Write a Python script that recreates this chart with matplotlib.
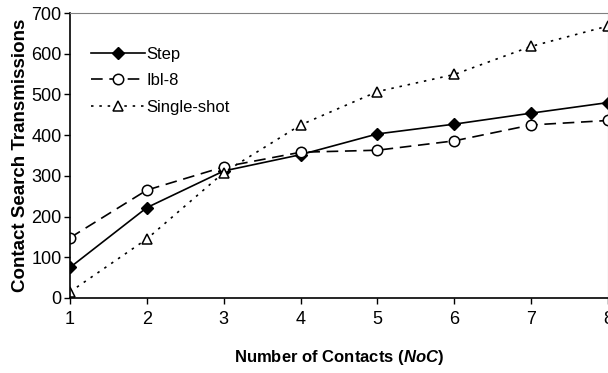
import matplotlib
matplotlib.use("Agg")
import matplotlib.pyplot as plt

noc = [1, 2, 3, 4, 5, 6, 7, 8]
step = [75, 222, 312, 352, 403, 427, 454, 480]
ibl8 = [148, 265, 322, 358, 363, 386, 425, 436]
single = [15, 145, 308, 425, 507, 549, 618, 668]
yticks = [0, 100, 200, 300, 400, 500, 600, 700]

plt.rcParams["font.family"] = ["Liberation Sans", "DejaVu Sans"]
plt.rcParams["mathtext.fontset"] = "custom"
plt.rcParams["mathtext.it"] = "Liberation Sans:italic:bold"
plt.rcParams["mathtext.rm"] = "Liberation Sans:bold"

fig = plt.figure(figsize=(6.08, 3.73), dpi=100)
ax = fig.add_axes([70 / 608, 1 - 298 / 373, 538 / 608, 285 / 373])

ax.plot(noc, step, color="black", lw=1.2, marker="D", ms=6, mfc="black", label="Step")
ax.plot(noc, ibl8, color="black", lw=1.2, ls=(0, (7, 4)), marker="o", ms=7.5,
        mfc="white", mew=1.1, label="Ibl-8")
ax.plot(noc, single, color="black", lw=1.2, ls=(0, (1.5, 3.5)), marker="^", ms=7.5,
        mfc="white", mew=1.1, label="Single-shot")

ax.set_xlim(1, 8)
ax.set_ylim(0, 700)
ax.set_xticks(noc)
ax.set_yticks(yticks)
ax.tick_params(labelsize=13, direction="out", length=4, width=1, color="black")
ax.tick_params(axis="x", pad=5)
ax.tick_params(axis="y", pad=2)
ax.spines["top"].set_color("#808080")
ax.spines["right"].set_color("#808080")
ax.spines["left"].set_linewidth(1.2)
ax.spines["bottom"].set_linewidth(1.2)

ax.set_ylabel("Contact Search Transmissions", fontsize=13.5, fontweight="bold", labelpad=2)
ax.set_xlabel(r"Number of Contacts ($\it{NoC}$)", fontsize=12, fontweight="bold", labelpad=15)

ax.legend(loc="upper left", bbox_to_anchor=(0.012, 0.935), frameon=False, fontsize=12,
          handlelength=3.2, handletextpad=0.1, labelspacing=0.7)

fig.savefig("out.png", dpi=100)
